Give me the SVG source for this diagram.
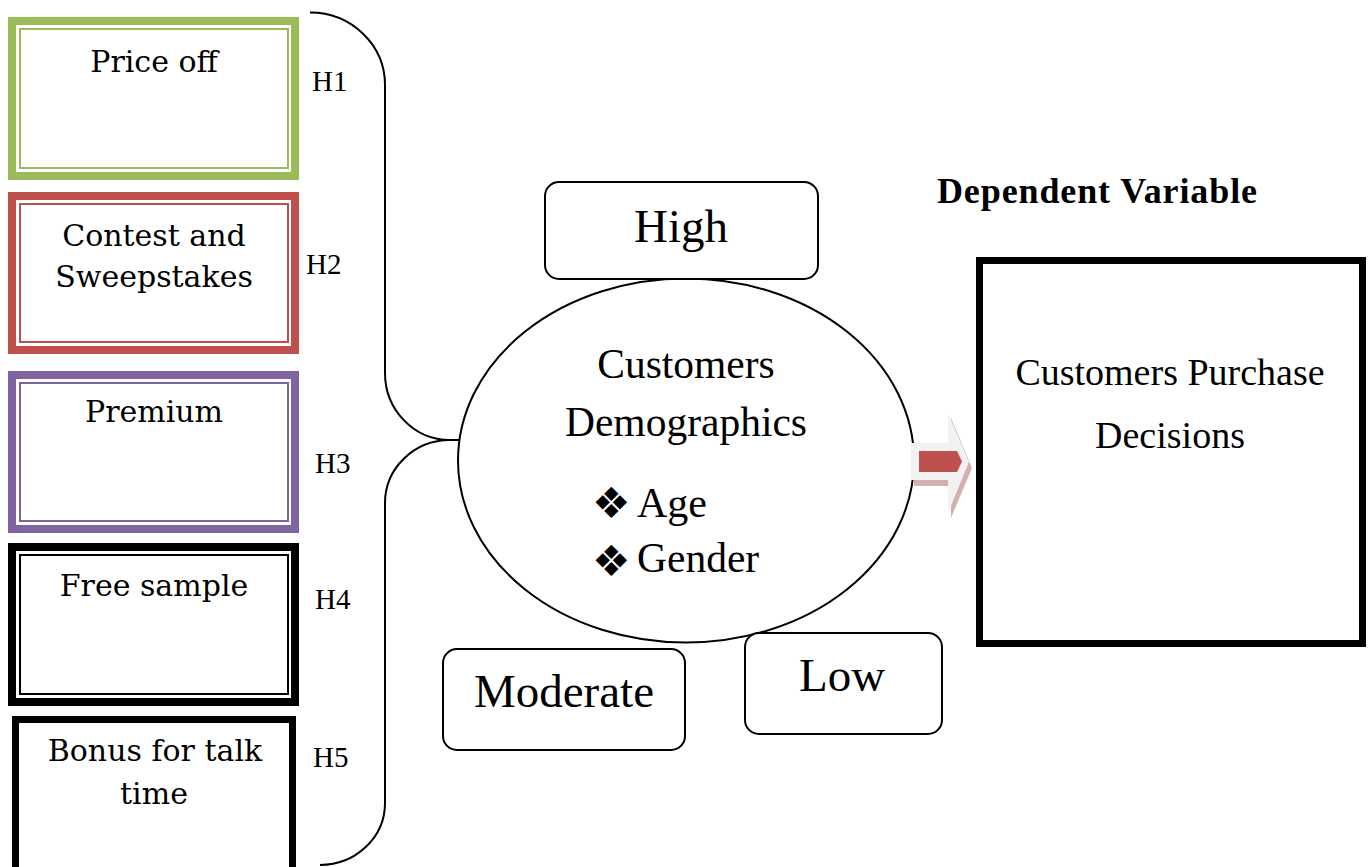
<svg xmlns="http://www.w3.org/2000/svg" width="1371" height="867" viewBox="0 0 1371 867">
<style>
.bx{font-family:"DejaVu Serif","Liberation Serif",serif;font-size:30px;fill:#000;text-anchor:middle}
.tm{font-family:"Liberation Serif","Times New Roman",serif;fill:#000}
.h{font-size:29px}
.bul{font-family:"DejaVu Sans",sans-serif;font-size:43px;fill:#000}
.rr{fill:#fff;stroke:#000;stroke-width:2}
.ln{fill:none;stroke:#000;stroke-width:2}
</style>
<rect width="1371" height="867" fill="#fff"/>

<g id="connectors">
<path class="ln" d="M310,12.5 A75,72.5 0 0 1 385,85 L385,373 A65,67 0 0 0 450,440 L460,440"/>
<path class="ln" d="M460,440 L450,440 A65,63 0 0 0 385,503 L385,803 A65,62 0 0 1 320,865"/>
</g>

<g id="price-off">
<rect x="12" y="21" width="283" height="155" fill="#fff" stroke="#9BBB59" stroke-width="8"/>
<rect x="20" y="29" width="268" height="139" fill="none" stroke="#9BBB59" stroke-width="2"/>
<text class="bx" x="154" y="72">Price off</text>
</g>
<g id="contest">
<rect x="12" y="196" width="283" height="154" fill="#fff" stroke="#C0504D" stroke-width="8"/>
<rect x="20" y="204" width="268" height="138" fill="none" stroke="#C0504D" stroke-width="2"/>
<text class="bx" x="154" y="246">Contest and</text>
<text class="bx" x="154" y="287">Sweepstakes</text>
</g>
<g id="premium">
<rect x="12" y="375" width="283" height="154" fill="#fff" stroke="#8064A2" stroke-width="8"/>
<rect x="20" y="383" width="268" height="138" fill="none" stroke="#8064A2" stroke-width="2"/>
<text class="bx" x="154" y="422">Premium</text>
</g>
<g id="free-sample">
<rect x="12" y="547" width="283" height="155" fill="#fff" stroke="#000" stroke-width="8"/>
<rect x="20" y="555" width="268" height="139" fill="none" stroke="#000" stroke-width="2"/>
<text class="bx" x="154" y="596">Free sample</text>
</g>
<g id="bonus">
<rect x="15.5" y="719.5" width="277" height="200" fill="#fff" stroke="#000" stroke-width="7"/>
<text class="bx" x="155" y="761">Bonus for talk</text>
<text class="bx" x="154" y="804">time</text>
</g>

<g id="labels">
<text class="tm h" x="312" y="91">H1</text>
<text class="tm h" x="306" y="274">H2</text>
<text class="tm h" x="315" y="473">H3</text>
<text class="tm h" x="315" y="609">H4</text>
<text class="tm h" x="313" y="767">H5</text>
</g>

<g id="demographics">
<ellipse cx="686" cy="460.5" rx="228" ry="182" fill="#fff" stroke="#000" stroke-width="2"/>
<text class="tm" x="686" y="378" font-size="41.5" text-anchor="middle">Customers</text>
<text class="tm" x="686" y="436" font-size="41.5" text-anchor="middle">Demographics</text>
<text class="bul" x="592" y="518">❖</text>
<text class="tm" x="637" y="517" font-size="42">Age</text>
<text class="bul" x="592" y="576">❖</text>
<text class="tm" x="637" y="572" font-size="41.5">Gender</text>
</g>

<g id="high">
<rect class="rr" x="545" y="182" width="273" height="97" rx="14"/>
<text class="tm" x="681" y="242" font-size="47" text-anchor="middle">High</text>
</g>
<g id="moderate">
<rect class="rr" x="443" y="649" width="242" height="101" rx="14"/>
<text class="tm" x="564" y="707" font-size="47" text-anchor="middle">Moderate</text>
</g>
<g id="low">
<rect class="rr" x="745" y="633" width="197" height="101" rx="14"/>
<text class="tm" x="842" y="691" font-size="47" text-anchor="middle">Low</text>
</g>

<g id="arrow">
<polygon points="914,448 951,448 951,418 972,468 951,518 951,486 914,486" fill="#D2B0B0"/>
<polygon points="911,443 948,443 948,413 969,462 948,513 948,480 911,480" fill="#F2F2F2"/>
<polygon points="919,451 957,451 962,461.5 957,472 919,472" fill="#C0504D"/>
</g>

<g id="dependent">
<text class="tm" x="937" y="203" font-size="36" font-weight="bold" textLength="320" lengthAdjust="spacing">Dependent Variable</text>
<rect x="979.5" y="260.5" width="383" height="383" fill="#fff" stroke="#000" stroke-width="7"/>
<text class="tm" x="1170" y="385" font-size="38" text-anchor="middle">Customers Purchase</text>
<text class="tm" x="1170" y="448" font-size="38" text-anchor="middle">Decisions</text>
</g>
</svg>
